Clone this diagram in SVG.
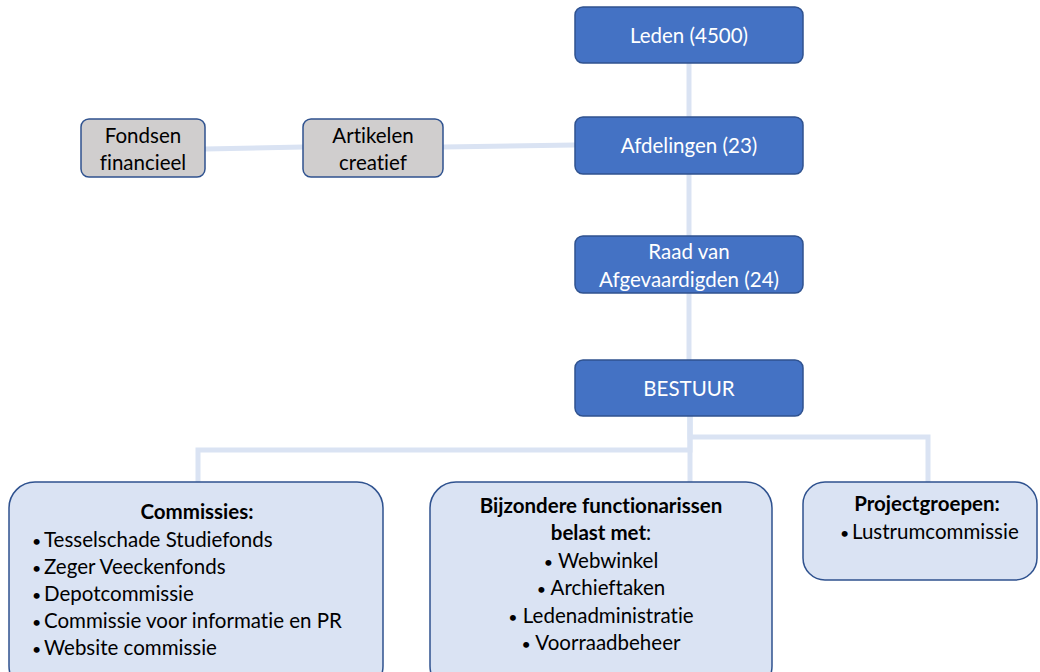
<svg xmlns="http://www.w3.org/2000/svg" width="1040" height="672" viewBox="0 0 1040 672">
<style>
.blue{fill:#4472C4;stroke:#2F528F;stroke-width:1.5}
.gray{fill:#D0CECE;stroke:#2F528F;stroke-width:1.5}
.light{fill:#DAE3F3;stroke:#2F528F;stroke-width:1.5}
.con{fill:none;stroke:#DAE3F3;stroke-width:5}
text{font-family:Lato,"Open Sans","Liberation Sans",sans-serif;font-size:20.5px;font-variant-ligatures:none}
.w{fill:#FFFFFF;text-anchor:middle}
.k{fill:#000000}
.c{text-anchor:middle}
.b{font-weight:bold}
.bu{font-size:16px}
</style>
<g id="connectors">
<path class="con" d="M689 63V117"/>
<path class="con" d="M689 174V236"/>
<path class="con" d="M689 293V360"/>
<path class="con" d="M205 149L303 147"/>
<path class="con" d="M443 147L575 145"/>
<path class="con" d="M690 416V450H198V482"/>
<path class="con" d="M690 416V482"/>
<path class="con" d="M690 416V437H928V482"/>
</g>
<g id="leden">
<rect class="blue" x="575" y="7" width="228" height="56" rx="8"/>
<text class="w" x="689" y="43">Leden (4500)</text>
</g>
<g id="afdelingen">
<rect class="blue" x="575" y="117" width="228" height="57" rx="8"/>
<text class="w" x="689" y="153">Afdelingen (23)</text>
</g>
<g id="raad">
<rect class="blue" x="575" y="236" width="228" height="57" rx="8"/>
<text class="w" x="689" y="259">Raad van</text>
<text class="w" x="689" y="287">Afgevaardigden (24)</text>
</g>
<g id="bestuur">
<rect class="blue" x="575" y="360" width="228" height="56" rx="8"/>
<text class="w" x="689" y="396">BESTUUR</text>
</g>
<g id="fondsen">
<rect class="gray" x="81" y="119" width="124" height="58" rx="8"/>
<text class="k c" x="143" y="143">Fondsen</text>
<text class="k c" x="143" y="170">financieel</text>
</g>
<g id="artikelen">
<rect class="gray" x="303" y="119" width="140" height="58" rx="8"/>
<text class="k c" x="373" y="143">Artikelen</text>
<text class="k c" x="373" y="170">creatief</text>
</g>
<g id="commissies">
<rect class="light" x="9" y="482" width="374" height="210" rx="26"/>
<text class="k c b" x="197" y="519">Commissies:</text>
<text class="k bu" x="32" y="547">•</text><text class="k" x="44" y="547">Tesselschade Studiefonds</text>
<text class="k bu" x="32" y="574">•</text><text class="k" x="44" y="574">Zeger Veeckenfonds</text>
<text class="k bu" x="32" y="601">•</text><text class="k" x="44" y="601">Depotcommissie</text>
<text class="k bu" x="32" y="628">•</text><text class="k" x="44" y="628">Commissie voor informatie en PR</text>
<text class="k bu" x="32" y="655">•</text><text class="k" x="44" y="655">Website commissie</text>
</g>
<g id="functionarissen">
<rect class="light" x="430" y="482" width="342" height="210" rx="26"/>
<text class="k c b" x="601" y="513">Bijzondere functionarissen</text>
<text class="k c" x="601" y="540"><tspan class="b">belast met</tspan>:</text>
<text class="k c" x="601" y="568"><tspan class="bu">•</tspan> Webwinkel</text>
<text class="k c" x="601" y="595"><tspan class="bu">•</tspan> Archieftaken</text>
<text class="k c" x="601" y="623"><tspan class="bu">•</tspan> Ledenadministratie</text>
<text class="k c" x="601" y="650"><tspan class="bu">•</tspan> Voorraadbeheer</text>
</g>
<g id="projectgroepen">
<rect class="light" x="803" y="482" width="234" height="98" rx="22"/>
<text class="k c b" x="927" y="511">Projectgroepen:</text>
<text class="k bu" x="840" y="539">•</text><text class="k" x="852" y="539">Lustrumcommissie</text>
</g>
</svg>
